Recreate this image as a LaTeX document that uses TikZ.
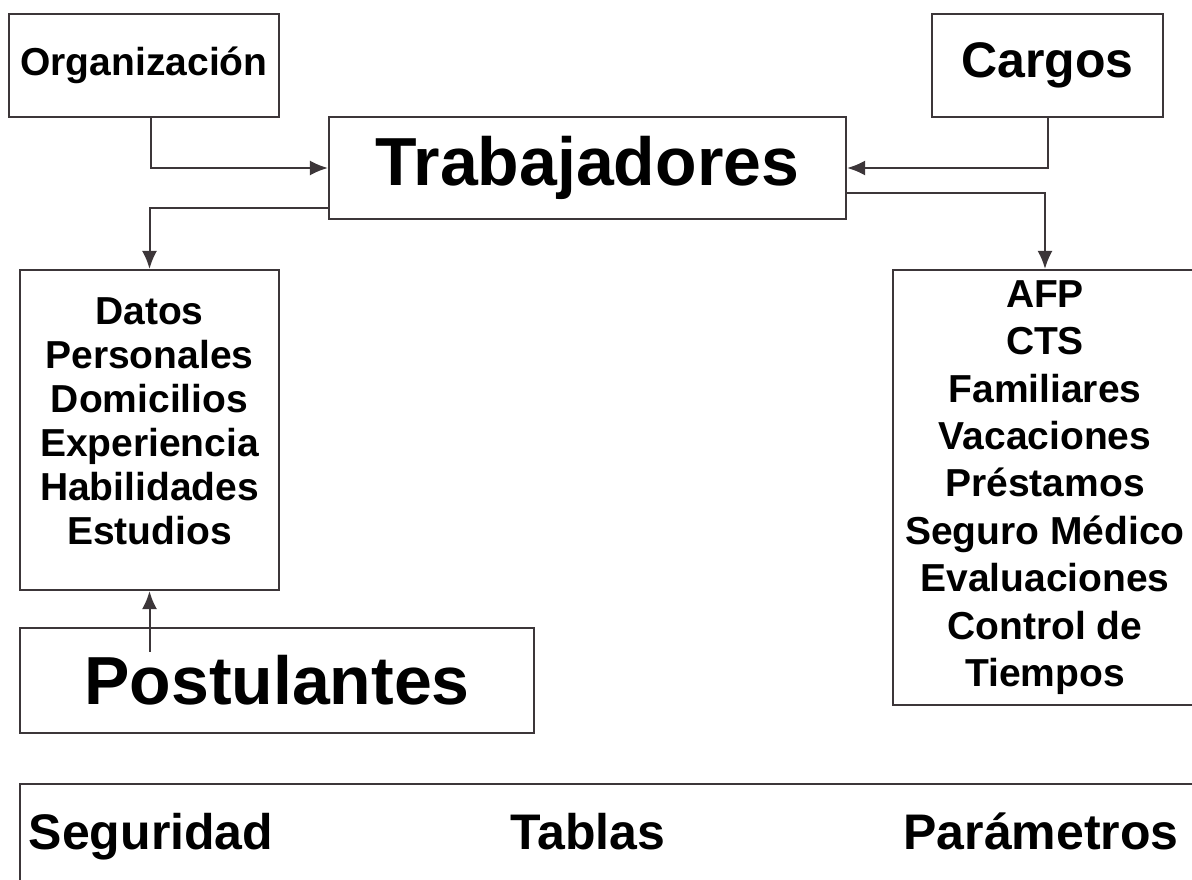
\documentclass[tikz,border=0pt]{standalone}
\usepackage{fontspec}
\setmainfont{Liberation Sans}
\usetikzlibrary{arrows.meta}
\definecolor{edge}{HTML}{3C3639}
\tikzset{
  box/.style={draw=edge, line width=2.2pt, rectangle, inner sep=0pt, align=center, text=black},
  conn/.style={draw=edge, line width=2pt, -{Latex[length=18pt,width=15pt]}},
  big/.style={font=\bfseries\fontsize{68}{70}\selectfont},
  mid/.style={font=\bfseries\fontsize{50}{54}\selectfont},
  small/.style={font=\bfseries\fontsize{39}{44}\selectfont},
  list/.style={font=\bfseries\fontsize{39}{47.4}\selectfont},
}
\begin{document}
\begin{tikzpicture}[x=1pt,y=-1pt]
\useasboundingbox (0,0) rectangle (1192,880);
\clip (0,0) rectangle (1192,880);
\node[box, small, minimum width=270pt, minimum height=103pt] (org) at (144,65.5) {Organización};
\node[box, mid, minimum width=231pt, minimum height=103pt] (cargos) at (1047.5,65.5) {Cargos};
\node[box, big, minimum width=517pt, minimum height=102pt] (trab) at (587.5,168) {Trabajadores};
\node[box, minimum width=259pt, minimum height=320pt] (datos) at (149.5,430) {};
\node[small, align=center, inner sep=0pt] (datosT) at (149.5,421) {Datos\\Personales\\Domicilios\\Experiencia\\Habilidades\\Estudios};
\node[box, list, minimum width=304pt, minimum height=435pt] (afp) at (1045,487.5) {AFP\\CTS\\Familiares\\Vacaciones\\Préstamos\\Seguro Médico\\Evaluaciones\\Control de\\Tiempos};
\node[box, big, minimum width=514pt, minimum height=105pt] (post) at (277,680.5) {Postulantes};
\node[box, minimum width=1180pt, minimum height=116pt] (bottom) at (610,842) {};
\node[mid, inner sep=0pt, anchor=base] (seg) at (151,849) {Seguridad};
\node[mid, inner sep=0pt, anchor=base] (tab) at (588,849) {Tablas};
\node[mid, inner sep=0pt, anchor=base] (par) at (1041,849) {Parámetros};
% connectors
\draw[conn] ([xshift=7pt]org.south) |- (trab.west);
\draw[conn] (cargos.south) |- (trab.east);
\draw[conn] ([yshift=-40pt]trab.west) -| (datos.north);
\draw[conn] ([yshift=-25pt]trab.east) -| (afp.north);
\draw[conn] ([yshift=-25pt]datos.south |- post.north) -- (datos.south);
\end{tikzpicture}
\end{document}
